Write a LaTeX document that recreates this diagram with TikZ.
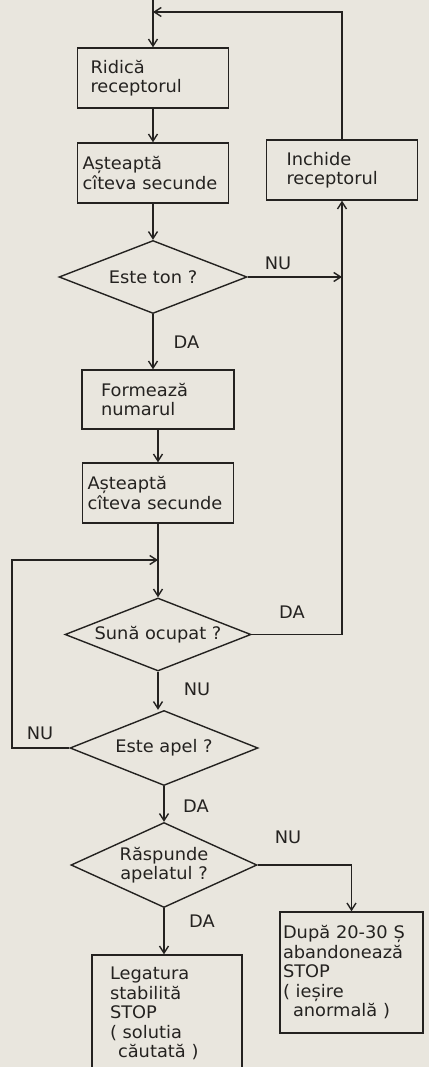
\documentclass[tikz,border=0pt]{standalone}
\usepackage{fontspec}
\setmainfont[FakeStretch=1.03]{DejaVu Sans}
\usetikzlibrary{shapes.geometric,calc}
\usetikzlibrary{arrows.meta}
\tikzset{>=Straight Barb}
\definecolor{hirtie}{RGB}{233,230,222}
\definecolor{tus}{RGB}{36,34,32}
\newcommand{\litera}{\fontsize{17.3}{19.5}\selectfont}
\tikzstyle{arw}=[-{Straight Barb[length=7pt,width=9pt]}]
\tikzstyle{pas}=[draw, rectangle, minimum height=60pt, align=left, font=\litera]
\tikzstyle{decizie}=[draw, diamond, aspect=2.4, inner sep=0pt, align=center, font=\litera]
\tikzstyle{eticheta}=[inner sep=0pt, font=\litera]

\begin{document}
\begin{tikzpicture}[x=1pt, y=-1pt, line width=1.4pt, color=tus]
    \fill[hirtie] (0,0) rectangle (429,1067);
    \useasboundingbox (0,0) rectangle (429,1067);
    \clip (0,0) rectangle (429,1067);

    \node[pas, inner xsep=13pt, text width=125pt] (ridica) at (153,78) {Ridică\\receptorul};
    \node[pas, inner xsep=5pt, text width=141pt] (astepta1) at (153,173) {Așteaptă\\cîteva secunde};
    \node[pas, inner xsep=20pt, text width=111pt] (inchide) at (342,170) {Inchide\\receptorul};
    \node[decizie, minimum width=188pt, minimum height=73pt] (eton) at (153,277) {Este ton ?};
    \node[pas, inner xsep=19pt, text width=114pt, minimum height=59pt] (formeaza) at (158,399.5) {Formează\\numarul};
    \node[pas, inner xsep=5pt, text width=141pt] (astepta2) at (158,493) {Așteaptă\\cîteva secunde};
    \node[decizie, minimum width=186pt, minimum height=73pt] (ocupat) at (158,634.5) {Sună ocupat ?};
    \node[decizie, minimum width=188pt, minimum height=75pt] (apel) at (164,748) {Este apel ?};
    \node[decizie, minimum width=186pt, minimum height=85pt] (raspunde) at (164,865) {Răspunde\\apelatul ?};
    \node[pas, inner xsep=3pt, text width=137pt, minimum height=121pt] (dupa) at (351.5,972.5) {După 20-30 Ș\\abandonează\\STOP\\( ieșire\\\hspace*{10pt}anormală )};
    \node[pas, inner xsep=18pt, text width=114pt, minimum height=117pt] (legatura) at (167,1013.5) {Legatura\\stabilită\\STOP\\( solutia\\\hspace*{8pt}căutată )};

    \coordinate (sus) at (153,0);
    \coordinate (intoarcere) at (153,12);
    \coordinate (colt) at (12,560);

    % coloana principala
    \draw[arw] (sus) -- (ridica.north);
    \draw[arw] (ridica) -- (astepta1);
    \draw[arw] (astepta1) -- (eton);
    \draw[arw] (eton.south) -- (eton.south |- formeaza.north) node[pos=0.5, anchor=west, eticheta, xshift=20pt] (tonda) {DA};
    \draw[arw] (formeaza) -- (astepta2);
    \draw[arw] (astepta2) -- (ocupat);
    \draw[arw] (ocupat.south) -- (ocupat.south |- apel.north);
    \draw[arw] (apel.south) -- (apel.south |- raspunde.north);
    \draw[arw] (raspunde.south) -- (raspunde.south |- legatura.north);

    % ramuri
    \draw[arw] (eton.east) -- (eton.east -| inchide.south);
    \draw[arw] (ocupat.east) -| (inchide.south);
    \draw[arw] (inchide.north) |- (intoarcere);
    \draw[arw] (apel.west) -| (colt) -- (colt -| astepta2.south);
    \draw[arw] (raspunde.east) -| (dupa.north);

    \node[eticheta] (tonnu) at (278,263) {NU};
    \node[eticheta] (ocupatda) at (292,612) {DA};
    \node[eticheta] (ocupatnu) at (197,689) {NU};
    \node[eticheta] (apelnu) at (40,733) {NU};
    \node[eticheta] (apelda) at (196,806) {DA};
    \node[eticheta] (raspnu) at (288,837) {NU};
    \node[eticheta] (raspda) at (202,921) {DA};
\end{tikzpicture}
\end{document}
